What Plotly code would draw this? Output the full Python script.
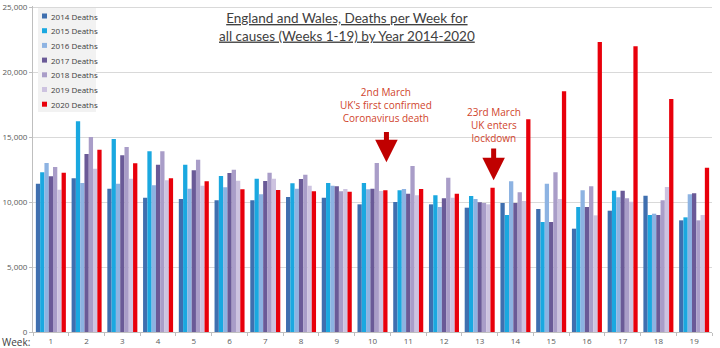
import plotly.graph_objects as go

weeks = [str(i) for i in range(1, 20)]
d2014 = [11410, 11820, 11026, 10333, 10231, 10128, 10128, 10385, 10333, 9821, 10000, 9821, 9564, 9923, 9462, 7949, 9333, 10487, 8590]
d2015 = [12282, 16205, 14846, 13897, 12872, 12000, 11795, 11436, 11462, 11462, 10897, 10513, 10462, 9000, 8462, 9615, 10872, 9000, 8821]
d2016 = [13000, 11462, 11410, 11282, 11026, 11128, 10590, 11026, 11256, 10974, 11000, 9615, 10231, 11590, 11410, 10897, 10359, 9103, 10590]
d2017 = [11975, 13692, 13590, 12872, 12436, 12231, 11615, 11769, 11205, 11026, 10641, 10282, 9974, 9923, 8462, 9615, 10872, 9000, 10667]
d2018 = [12692, 15000, 14231, 13897, 13256, 12487, 12256, 12103, 10821, 13000, 12769, 11872, 9923, 10744, 12282, 11205, 10282, 10128, 8590]
d2019 = [10949, 12564, 11795, 11667, 11256, 11641, 11795, 11256, 11000, 10846, 10513, 10333, 9821, 10077, 10231, 8974, 10026, 11154, 9000]
d2020 = [12256, 14026, 12974, 11820, 11590, 10974, 10923, 10821, 10795, 10897, 11000, 10641, 11103, 16359, 18513, 22307, 21974, 17923, 12641]

names = ["2014 Deaths", "2015 Deaths", "2016 Deaths", "2017 Deaths", "2018 Deaths", "2019 Deaths", "2020 Deaths"]
colors = ["#3F6FAF", "#1AA8E0", "#8DB3E2", "#6A5A97", "#A99DC8", "#CDC3E0", "#E8000B"]
values = [d2014, d2015, d2016, d2017, d2018, d2019, d2020]

W, H = 720, 348
ML, MR, MT, MB = 33, 8, 6, 16
PW, PH = W - ML - MR, H - MT - MB

def px(x):
    return (x - ML) / PW

def py(y):
    return (H - MB - y) / PH

fig = go.Figure()
for name, vals, col in zip(names, values, colors):
    fig.add_trace(go.Bar(x=weeks, y=vals, name=name, marker=dict(color=col, line=dict(width=0))))

red_txt = "#D0442C"
arrow_col = "#C00000"
fig.update_layout(
    width=W, height=H,
    margin=dict(l=ML, r=MR, t=MT, b=MB, autoexpand=False),
    paper_bgcolor="white", plot_bgcolor="white",
    barmode="group", bargap=0.16, bargroupgap=0,
    font=dict(family="Open Sans, Liberation Sans, sans-serif", color="#595959", size=8),
    showlegend=False,
    xaxis=dict(type="category", showline=True, linecolor="#BFBFBF", linewidth=1, automargin=False,
               ticks="outside", tickson="boundaries", ticklen=3, tickcolor="#BFBFBF",
               tickfont=dict(size=8, color="#595959"), showgrid=False, ticklabelstandoff=1),
    yaxis=dict(range=[0, 25080], tickvals=[0, 5000, 10000, 15000, 20000, 25000], tickformat=",",
               showgrid=True, gridcolor="#D9D9D9", gridwidth=1, showline=True, linecolor="#BFBFBF",
               ticks="outside", ticklen=3, tickcolor="#BFBFBF", zeroline=False, automargin=False,
               tickfont=dict(size=8, color="#595959")),
)

# legend drawn manually (compact spacing as in the reference)
fig.add_shape(type="rect", xref="paper", yref="paper", x0=px(38), x1=px(96), y0=py(112), y1=py(8),
              fillcolor="#F2F2F2", line=dict(width=0), layer="above")
for i, (name, col) in enumerate(zip(names, colors)):
    yc = 16 + i * 14.7
    fig.add_shape(type="rect", xref="paper", yref="paper", x0=px(42), x1=px(47), y0=py(yc + 2.5), y1=py(yc - 2.5),
                  fillcolor=col, line=dict(width=0), layer="above")
    fig.add_annotation(xref="paper", yref="paper", x=px(48.5), y=py(yc), xanchor="left", yanchor="middle",
                       text=name, showarrow=False, font=dict(size=8, color="#404040"))

fig.add_annotation(xref="paper", yref="paper", x=px(347), y=py(27), xanchor="center", yanchor="middle",
                   text="<u>England and Wales, Deaths per Week for</u><br><u>all causes (Weeks 1-19) by Year 2014-2020</u>",
                   showarrow=False, font=dict(size=13.5, color="#404040", family="Lato, Open Sans, sans-serif"),
                   align="center")

fig.add_annotation(xref="x", yref="y", x=9.37, y=17500, text="2nd March<br>UK's first confirmed<br>Coronavirus death",
                   showarrow=False, font=dict(size=10, color=red_txt), align="center")
fig.add_annotation(xref="x", yref="y", x=12.39, y=15890, text="23rd March<br>UK enters<br>lockdown",
                   showarrow=False, font=dict(size=10, color=red_txt), align="center")

fig.add_annotation(xref="x", yref="y", x=9.39, y=13050, axref="x", ayref="y", ax=9.39, ay=15500,
                   text="", showarrow=True, arrowhead=2, arrowsize=0.9, arrowwidth=5, arrowcolor=arrow_col)
fig.add_annotation(xref="x", yref="y", x=12.39, y=11670, axref="x", ayref="y", ax=12.39, ay=14230,
                   text="", showarrow=True, arrowhead=2, arrowsize=0.9, arrowwidth=5, arrowcolor=arrow_col)

fig.add_annotation(xref="paper", yref="paper", x=px(1), y=py(342.3), xanchor="left", yanchor="middle",
                   text="Week:", showarrow=False, font=dict(size=10, color="#404040"), borderpad=0)

fig.write_html("out.html")
